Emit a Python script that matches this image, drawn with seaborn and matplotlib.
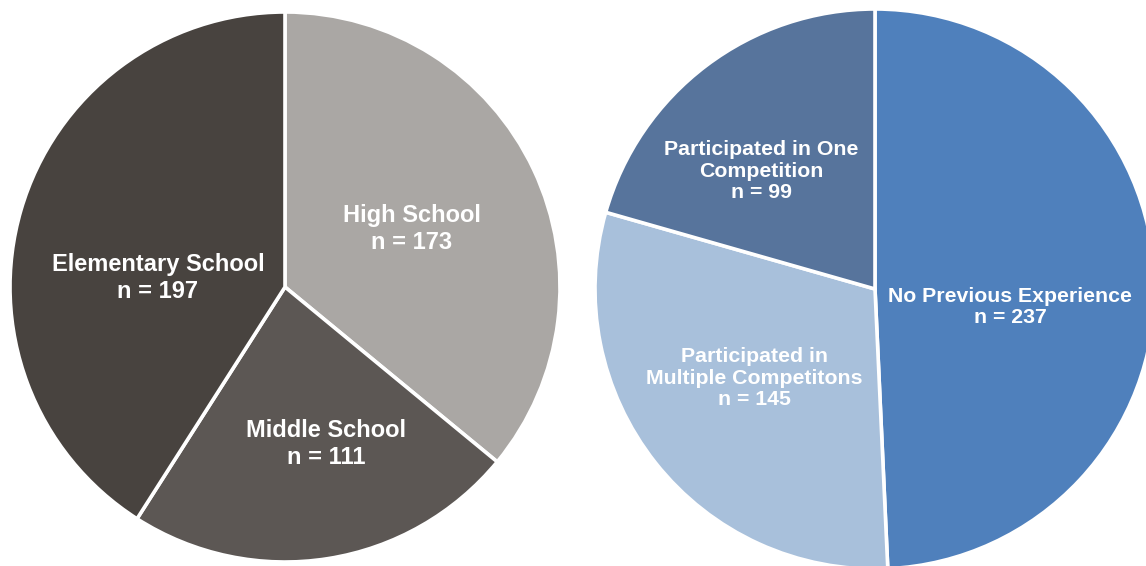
import matplotlib
matplotlib.use("Agg")
import matplotlib.pyplot as plt
import seaborn as sns

# School level of participants
school_levels = ["High School", "Middle School", "Elementary School"]
school_counts = [173, 111, 197]
school_colors = ["#AAA7A4", "#5C5754", "#48433F"]

# Previous competition experience
experience_levels = ["No Previous Experience",
                     "Participated in\nMultiple Competitons",
                     "Participated in One\nCompetition"]
experience_counts = [237, 145, 99]
experience_colors = ["#4F80BC", "#A8C0DB", "#57749C"]

sns.set_theme(style="white")
plt.rcParams["font.family"] = ["Liberation Sans", "DejaVu Sans"]

W, H = 1146, 566
fig = plt.figure(figsize=(W / 100, H / 100), dpi=100)
fig.patch.set_facecolor("white")


def pie_axes(cx, cy, r):
    # square axes (pixel units, origin top-left) holding a unit-radius pie
    return fig.add_axes([(cx - r) / W, (H - cy - r) / H, 2 * r / W, 2 * r / H])


def draw_pie(ax, labels, counts, colors, label_pos, fontsize):
    ax.pie(counts, colors=colors, startangle=90, counterclock=False,
           radius=1.0,
           wedgeprops=dict(edgecolor="white", linewidth=2.6))
    for lab, n, (x, y) in zip(labels, counts, label_pos):
        ax.text(x, y, f"{lab}\nn = {n}", ha="center", va="center",
                color="white", fontsize=fontsize, fontweight="bold",
                linespacing=1.18)
    ax.set_xlim(-1, 1)
    ax.set_ylim(-1, 1)
    ax.set_aspect("equal")
    ax.axis("off")


ax_left = pie_axes(285, 287, 275)
draw_pie(ax_left, school_levels, school_counts, school_colors,
         [(0.462, 0.211), (0.149, -0.571), (-0.462, 0.033)], 17)

ax_right = pie_axes(875, 289, 280)
draw_pie(ax_right, experience_levels, experience_counts, experience_colors,
         [(0.482, -0.064), (-0.432, -0.318), (-0.407, 0.421)], 15.3)

fig.savefig("out.png", dpi=100, facecolor="white")
